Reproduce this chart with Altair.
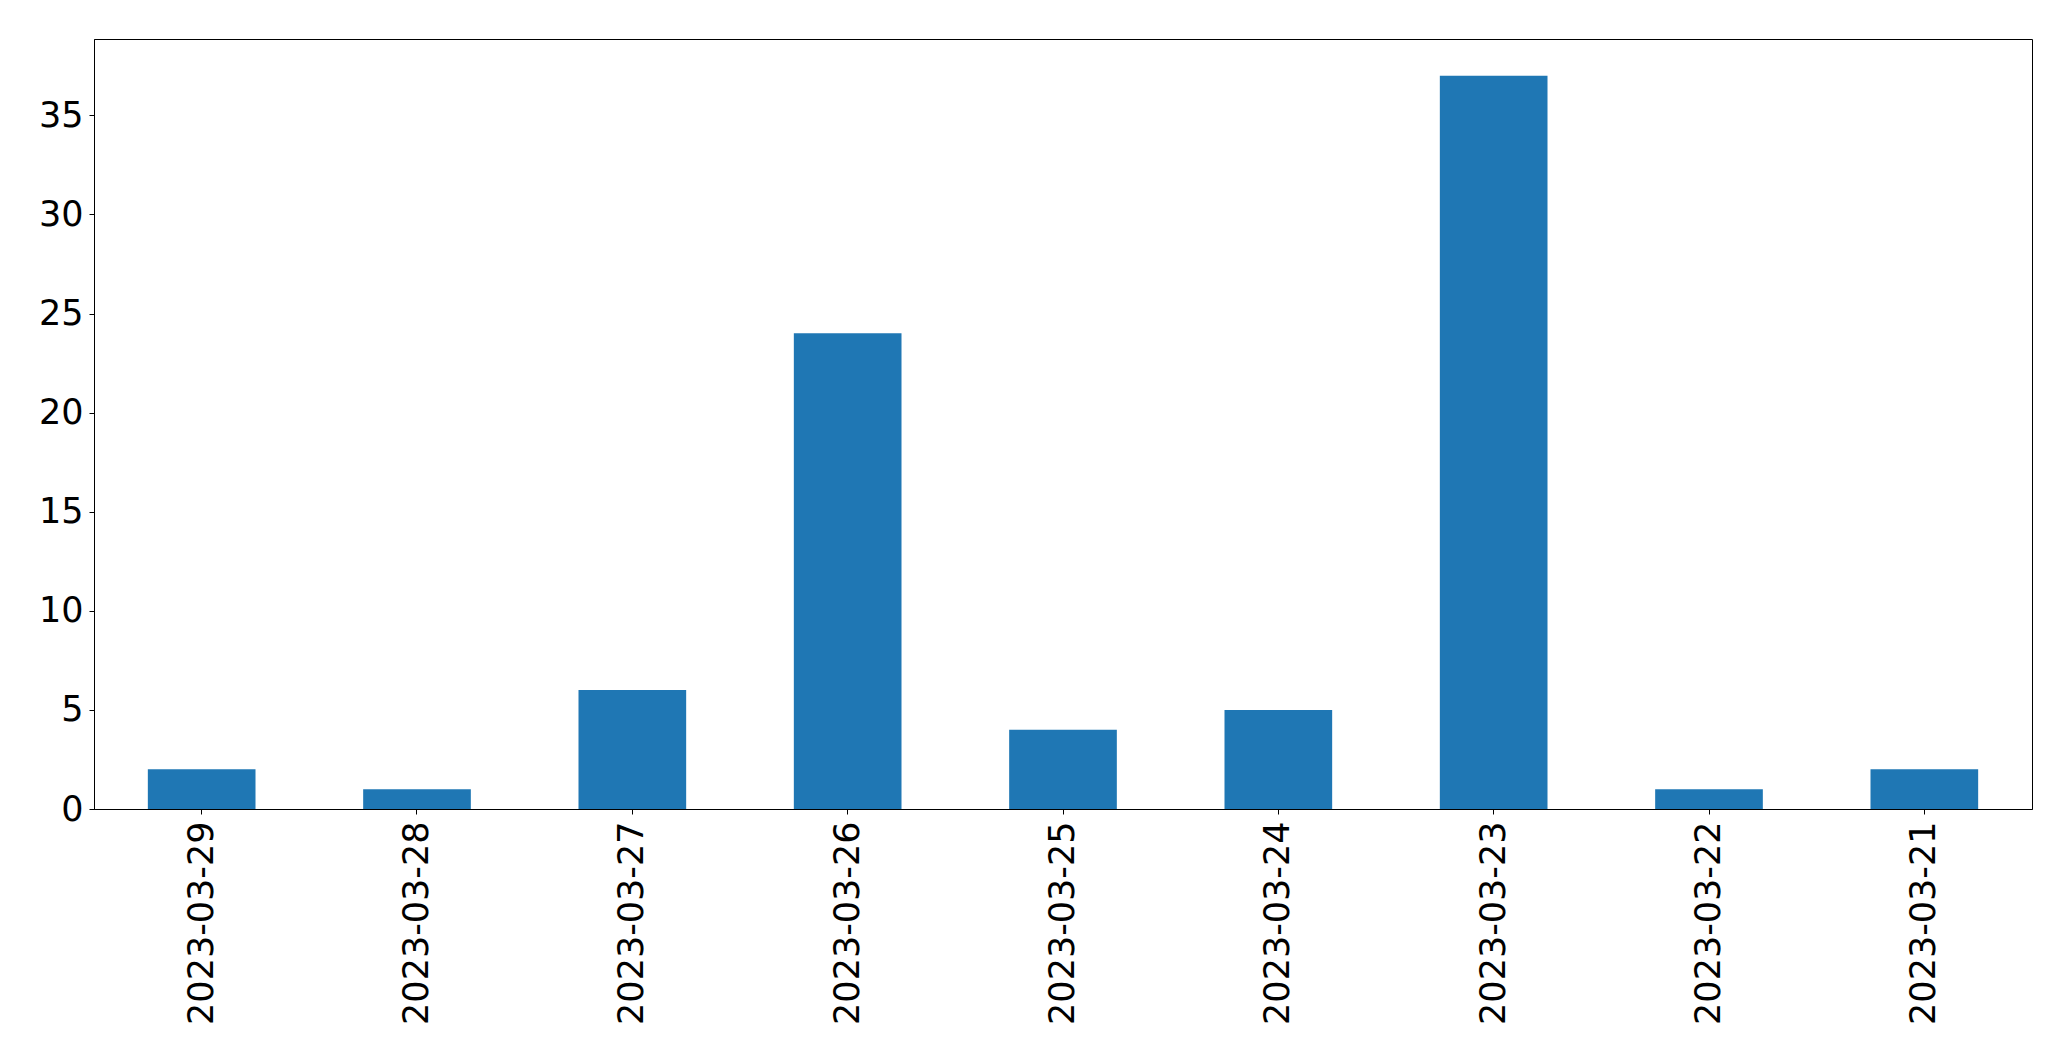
import altair as alt
import pandas as pd

dates = ["2023-03-29", "2023-03-28", "2023-03-27", "2023-03-26", "2023-03-25",
         "2023-03-24", "2023-03-23", "2023-03-22", "2023-03-21"]
counts = [2, 1, 6, 24, 4, 5, 37, 1, 2]
y_ticks = [0, 5, 10, 15, 20, 25, 30, 35]

df = pd.DataFrame({"date": dates, "count": counts})

W, H = 1938, 770
PL, PT = 86, 31

chart = alt.Chart(df).mark_bar(color="#1f77b4").encode(
    x=alt.X("date:N", sort=None, title=None,
            scale=alt.Scale(paddingInner=0.5, paddingOuter=0.25),
            axis=alt.Axis(labelAngle=-90, labelFontSize=35, labelFont="DejaVu Sans",
                          labelColor="black", tickColor="black", tickSize=5,
                          domainColor="black", labelPadding=7, grid=False,
                          labelLimit=0,
                          labelAlign="right", labelBaseline="middle")),
    y=alt.Y("count:Q", title=None,
            scale=alt.Scale(domain=[0, 38.85], nice=False, zero=True),
            axis=alt.Axis(values=y_ticks, labelFontSize=35, labelFont="DejaVu Sans",
                          labelColor="black", tickColor="black", tickSize=5,
                          domainColor="black", labelPadding=6, grid=False)),
).properties(
    width=W, height=H,
    autosize=alt.AutoSizeParams(type="none"),
    padding={"left": PL, "top": PT, "right": 20, "bottom": 230},
).configure_view(stroke="black", strokeWidth=1)

chart.save("out.html", embed_options={"renderer": "svg", "actions": False})
